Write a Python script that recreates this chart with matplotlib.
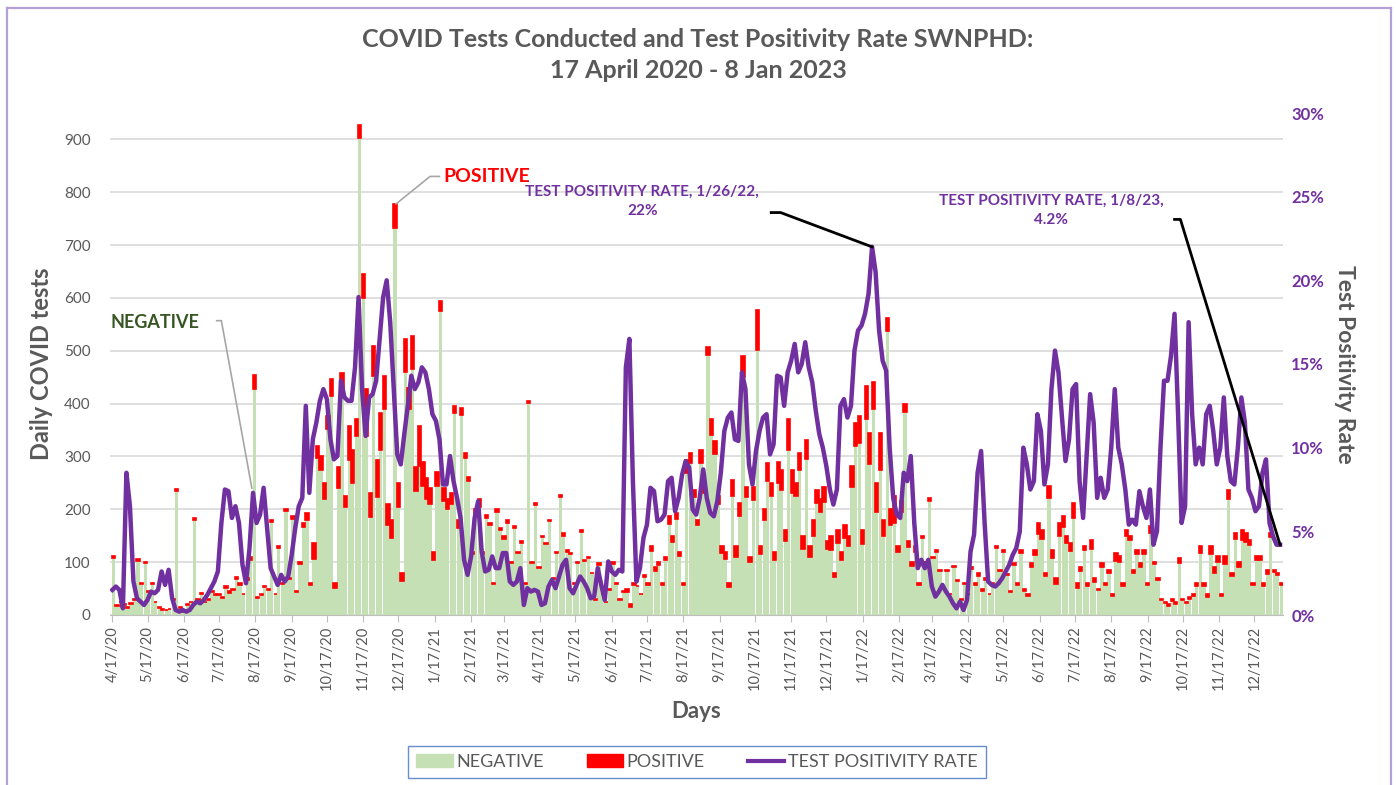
import datetime as dt

import numpy as np
import matplotlib
matplotlib.use("Agg")
import matplotlib.pyplot as plt
from matplotlib.patches import Patch
from matplotlib.lines import Line2D
from matplotlib.ticker import FuncFormatter, MultipleLocator

plt.rcParams["font.family"] = ["Lato", "DejaVu Sans"]

START = dt.date(2020, 4, 17)
BIN_DAYS = 3  # values in 3-day steps

# total tests per step (negative + positive)
daily_tests = [
    112, 18, 25, 20, 15, 22, 30, 106, 60, 100,
    45, 60, 25, 15, 12, 10, 12, 30, 238, 15,
    5, 20, 25, 183, 30, 42, 25, 30, 45, 40,
    40, 35, 55, 45, 50, 72, 60, 40, 70, 110,
    455, 35, 40, 55, 50, 180, 40, 130, 60, 200,
    70, 187, 45, 100, 174, 193, 60, 136, 320, 300,
    250, 377, 446, 60, 280, 458, 225, 358, 313, 370,
    928, 645, 427, 230, 510, 293, 383, 452, 210, 180,
    778, 250, 80, 522, 430, 528, 280, 358, 290, 260,
    240, 120, 270, 595, 240, 220, 230, 395, 180, 392,
    307, 262, 120, 200, 219, 120, 190, 175, 60, 200,
    165, 150, 180, 100, 168, 120, 140, 60, 405, 100,
    212, 90, 150, 136, 180, 70, 120, 228, 155, 123,
    117, 60, 100, 161, 105, 110, 80, 30, 98, 40,
    25, 50, 100, 60, 30, 45, 50, 20, 60, 55,
    40, 75, 60, 130, 90, 100, 60, 110, 187, 150,
    193, 120, 60, 294, 307, 237, 180, 313, 250, 507,
    370, 330, 225, 130, 120, 60, 256, 130, 212, 490,
    243, 110, 243, 577, 130, 200, 288, 250, 120, 290,
    275, 160, 370, 275, 250, 307, 150, 332, 130, 180,
    237, 220, 243, 140, 149, 80, 161, 120, 170, 150,
    282, 364, 377, 160, 434, 345, 440, 250, 345, 180,
    562, 200, 225, 130, 215, 400, 140, 100, 130, 60,
    150, 100, 221, 110, 123, 85, 50, 85, 40, 92,
    66, 30, 60, 40, 90, 60, 80, 50, 70, 40,
    60, 130, 85, 123, 78, 45, 98, 60, 123, 50,
    40, 98, 123, 174, 161, 80, 244, 123, 70, 174,
    187, 149, 136, 212, 60, 90, 130, 60, 142, 70,
    50, 98, 60, 85, 40, 117, 111, 60, 161, 149,
    85, 123, 98, 123, 60, 168, 100, 70, 30, 25,
    20, 30, 25, 108, 30, 25, 35, 40, 60, 130,
    60, 40, 130, 90, 111, 40, 111, 237, 80, 155,
    100, 161, 155, 142, 60, 111, 111, 60, 85, 155,
    85, 79, 60,
]

positive = [
    4, 1, 1, 1, 2, 2, 1, 3, 1, 2,
    2, 2, 1, 1, 2, 1, 1, 1, 3, 1,
    0, 1, 1, 3, 1, 2, 1, 1, 2, 2,
    2, 2, 3, 3, 3, 4, 3, 1, 3, 5,
    28, 2, 2, 2, 2, 4, 1, 3, 2, 4,
    2, 5, 2, 4, 8, 14, 4, 30, 22, 25,
    30, 25, 32, 8, 40, 38, 20, 64, 63, 32,
    25, 45, 89, 45, 58, 70, 70, 63, 40, 35,
    45, 45, 15, 63, 40, 63, 45, 76, 45, 40,
    30, 15, 25, 20, 25, 20, 20, 12, 15, 14,
    10, 8, 4, 10, 14, 5, 6, 5, 2, 6,
    5, 6, 6, 2, 3, 2, 4, 1, 4, 2,
    3, 1, 2, 1, 3, 2, 2, 4, 5, 4,
    2, 1, 2, 4, 2, 2, 1, 1, 3, 1,
    1, 2, 3, 2, 1, 1, 6, 4, 4, 1,
    1, 3, 3, 8, 6, 5, 3, 6, 15, 12,
    12, 8, 4, 25, 20, 14, 10, 25, 20, 15,
    30, 25, 15, 12, 14, 7, 30, 20, 25, 40,
    20, 10, 25, 75, 15, 20, 35, 25, 15, 40,
    38, 20, 57, 44, 25, 32, 25, 37, 20, 30,
    25, 25, 30, 15, 26, 8, 25, 15, 25, 20,
    40, 45, 51, 25, 64, 60, 51, 55, 70, 30,
    25, 30, 50, 10, 20, 16, 12, 8, 10, 4,
    5, 3, 5, 3, 3, 2, 1, 2, 1, 2,
    1, 1, 1, 1, 3, 3, 6, 5, 3, 1,
    2, 3, 2, 3, 2, 1, 3, 3, 6, 5,
    4, 7, 9, 20, 18, 6, 22, 16, 11, 24,
    20, 13, 14, 28, 8, 7, 7, 6, 18, 8,
    3, 8, 4, 6, 4, 15, 11, 5, 12, 8,
    5, 7, 7, 8, 3, 13, 4, 3, 2, 3,
    3, 4, 4, 9, 2, 2, 5, 4, 5, 13,
    5, 5, 15, 10, 10, 4, 14, 18, 6, 12,
    10, 20, 17, 10, 4, 7, 7, 5, 8, 8,
    4, 3, 3,
]

# test positivity rate, percent
positivity_rate = [
    1.5, 1.7, 1.5, 0.4, 8.5, 6.5, 2.0, 1.0, 0.8, 0.6,
    0.9, 1.4, 1.3, 1.5, 2.6, 1.8, 2.7, 1.0, 0.3, 0.2,
    0.3, 0.2, 0.3, 0.6, 0.8, 0.7, 0.9, 1.2, 1.6, 2.0,
    2.6, 5.5, 7.5, 7.4, 5.8, 6.5, 5.5, 3.0, 1.9, 4.0,
    7.3, 5.5, 6.0, 7.6, 5.2, 2.8, 2.3, 1.8, 2.4, 2.0,
    2.3, 3.6, 5.2, 6.5, 7.0, 12.5, 7.3, 10.5, 11.5, 12.8,
    13.5, 12.9, 10.5, 9.3, 9.5, 14.0, 13.0, 12.8, 12.8, 14.8,
    19.0, 13.5, 10.7, 13.0, 13.2, 14.0, 16.5, 19.0, 20.0, 17.5,
    13.5, 9.6, 9.0, 10.8, 12.5, 14.3, 13.5, 13.9, 14.8, 14.5,
    13.5, 12.0, 11.6, 10.5, 7.8, 7.8, 9.5, 8.0, 7.0, 5.8,
    3.3, 2.4, 3.5, 5.8, 6.8, 3.8, 2.6, 2.7, 3.5, 2.8,
    2.8, 3.7, 3.7, 2.0, 1.8, 2.0, 2.8, 0.6, 1.6, 1.4,
    1.5, 1.4, 0.6, 0.7, 1.7, 2.1, 1.6, 2.3, 3.0, 3.3,
    1.6, 1.3, 1.8, 2.3, 2.0, 1.6, 1.0, 1.1, 2.8, 1.8,
    0.9, 3.2, 2.6, 2.4, 2.7, 2.6, 14.8, 16.5, 8.0, 2.0,
    2.8, 4.6, 5.4, 7.6, 7.4, 5.6, 5.7, 6.0, 8.0, 8.2,
    6.2, 7.0, 8.4, 9.2, 8.8, 6.3, 6.0, 7.0, 8.7, 7.0,
    6.1, 5.9, 6.8, 8.5, 11.0, 11.8, 12.1, 10.5, 10.4, 14.5,
    13.5, 9.0, 7.8, 9.8, 11.0, 11.8, 12.0, 9.6, 10.2, 14.3,
    14.2, 12.5, 14.5, 15.2, 16.2, 14.5, 15.0, 16.3, 14.8, 13.9,
    12.2, 10.8, 10.0, 8.9, 7.5, 6.6, 7.5, 12.5, 12.9, 11.8,
    12.5, 15.8, 17.0, 17.3, 18.0, 19.2, 22.0, 20.5, 17.0, 15.2,
    14.6, 10.0, 7.0, 6.0, 5.8, 8.5, 8.0, 9.5, 5.5, 2.8,
    3.3, 2.8, 3.3, 1.7, 1.1, 1.4, 1.8, 1.4, 1.1, 0.7,
    0.4, 0.8, 0.3, 0.9, 3.8, 4.8, 8.5, 9.8, 5.5, 2.0,
    1.8, 1.7, 1.9, 2.2, 2.6, 3.0, 3.6, 4.0, 5.0, 10.0,
    9.0, 7.5, 8.0, 12.0, 11.0, 7.8, 9.0, 13.5, 15.8, 14.5,
    11.8, 9.2, 10.5, 13.5, 13.8, 8.0, 5.8, 9.5, 13.2, 11.5,
    7.0, 8.2, 7.0, 7.5, 10.0, 13.5, 10.0, 9.0, 7.5, 5.4,
    5.7, 5.4, 7.4, 6.5, 5.8, 7.5, 4.2, 5.0, 10.0, 14.0,
    14.0, 15.5, 18.0, 12.0, 5.5, 6.5, 17.5, 12.0, 9.0, 10.0,
    9.0, 12.0, 12.5, 11.0, 9.0, 10.0, 13.0, 9.5, 8.0, 7.8,
    10.0, 13.0, 11.5, 7.5, 7.0, 6.2, 6.5, 8.5, 9.3, 5.5,
    4.7, 4.2, 4.2,
]

tick_labels = [
    "4/17/20", "5/17/20", "6/17/20", "7/17/20", "8/17/20", "9/17/20",
    "10/17/20", "11/17/20", "12/17/20", "1/17/21", "2/17/21", "3/17/21",
    "4/17/21", "5/17/21", "6/17/21", "7/17/21", "8/17/21", "9/17/21",
    "10/17/21", "11/17/21", "12/17/21", "1/17/22", "2/17/22", "3/17/22",
    "4/17/22", "5/17/22", "6/17/22", "7/17/22", "8/17/22", "9/17/22",
    "10/17/22", "11/17/22", "12/17/22",
]

GREEN = "#c5e0b4"
RED = "#ff0000"
PURPLE = "#7030a0"
GREY = "#595959"

assert len(daily_tests) == len(positive) == len(positivity_rate)

day = np.arange(len(daily_tests)) * BIN_DAYS
tests = np.array(daily_tests, dtype=float)
pos = np.array(positive, dtype=float)
neg = tests - pos
rate = np.array(positivity_rate) / 100.0

tick_pos = [(dt.datetime.strptime(s, "%m/%d/%y").date() - START).days for s in tick_labels]

W, H = 1396, 785
fig = plt.figure(figsize=(W / 100, H / 100), dpi=100)
ax = fig.add_axes([110 / W, 1 - 615 / H, (1283 - 110) / W, (615 - 113) / H])

ax.bar(day + 1, neg, width=2.85, color=GREEN, linewidth=0, zorder=2)
ax.bar(day + 1, pos, bottom=neg, width=2.85, color=RED, edgecolor=RED,
       linewidth=1.2, zorder=3)

ax.set_xlim(-2, 998.5)
ax.set_ylim(0, 950)
ax.yaxis.set_major_locator(MultipleLocator(100))
ax.grid(axis="y", color="#d9d9d9", linewidth=1.2, zorder=0)
ax.set_axisbelow(True)
for s in ("top", "left", "right"):
    ax.spines[s].set_visible(False)
ax.spines["bottom"].set_color("#bfbfbf")
ax.tick_params(axis="y", length=0, labelsize=11, labelcolor=GREY, pad=14)
ax.set_xticks(tick_pos)
ax.set_xticklabels(tick_labels, rotation=90, fontsize=10.5, color=GREY)
ax.tick_params(axis="x", length=5, color="#bfbfbf", pad=3)
ax.set_ylabel("Daily COVID tests", fontsize=17, fontweight="bold", color=GREY, labelpad=8)
ax.set_xlabel("Days", fontsize=16, fontweight="bold", color=GREY, labelpad=8)

ax2 = ax.twinx()
ax2.plot(day, rate, color=PURPLE, linewidth=3.2, solid_joinstyle="round", zorder=4)
ax2.set_ylim(0, 0.30)
ax2.yaxis.set_major_locator(MultipleLocator(0.05))
ax2.yaxis.set_major_formatter(FuncFormatter(lambda v, _: f"{v * 100:.0f}%"))
for s in ("top", "left", "right", "bottom"):
    ax2.spines[s].set_visible(False)
ax2.tick_params(axis="y", length=0, labelsize=12, labelcolor=PURPLE, pad=6)
for lab in ax2.get_yticklabels():
    lab.set_fontweight("bold")
ax2.set_ylabel("Test Positivity Rate", fontsize=16.5, fontweight="bold", color=GREY,
               rotation=270, labelpad=22)

# callouts
ax.text(-2, 553, "NEGATIVE", color="#375623", fontsize=13, fontweight="bold",
        ha="left", va="center")
ax.plot([89, 93, day[40] - 1], [557, 557, 240], color="#a6a6a6", lw=1.2, zorder=5)

ax.text(282, 830, "POSITIVE", color=RED, fontsize=14, fontweight="bold",
        ha="left", va="center")
ax.plot([279, 271, day[80] + 2], [830, 830, tests[80]], color="#a6a6a6", lw=1.2, zorder=5)

peak = int(np.argmax(rate))
ax2.text(452, 0.247, "TEST POSITIVITY RATE, 1/26/22,\n22%", color=PURPLE, fontsize=11,
         fontweight="bold", ha="center", va="center", linespacing=1.5)
ax2.plot([562, 570, day[peak]], [0.2405, 0.2405, rate[peak]], color="black", lw=2, zorder=6)

ax2.text(801, 0.242, "TEST POSITIVITY RATE, 1/8/23,\n4.2%", color=PURPLE, fontsize=11,
         fontweight="bold", ha="center", va="center", linespacing=1.5)
ax2.plot([906, 911, day[-1]], [0.2364, 0.2364, rate[-1]], color="black", lw=2, zorder=6)

fig.text(0.5, 1 - 55 / H,
         "COVID Tests Conducted and Test Positivity Rate SWNPHD:\n17 April 2020 - 8 Jan 2023",
         ha="center", va="center", fontsize=18, fontweight="bold", color=GREY, linespacing=1.4)

handles = [
    Patch(facecolor=GREEN, edgecolor=GREEN, label="NEGATIVE"),
    Patch(facecolor=RED, edgecolor=RED, label="POSITIVE"),
    Line2D([0], [0], color=PURPLE, lw=3, label="TEST POSITIVITY RATE"),
]
leg = fig.legend(handles=handles, loc="center", bbox_to_anchor=(697 / W, 1 - 762 / H),
                 ncol=3, frameon=True, fancybox=False, fontsize=13,
                 handlelength=2.0, handletextpad=0.2, columnspacing=2.4,
                 borderpad=0.45, borderaxespad=0, labelcolor=GREY)
leg.get_frame().set_edgecolor("#4472c4")
leg.get_frame().set_linewidth(1.0)

# chart-area outline (left, top, right edges visible)
edge = dict(color="#b4a0d4", lw=1.6, transform=fig.transFigure)
fig.add_artist(Line2D([7.5 / W, 7.5 / W], [0, 1 - 7.5 / H], **edge))
fig.add_artist(Line2D([7.5 / W, 1391 / W], [1 - 7.5 / H, 1 - 7.5 / H], **edge))
fig.add_artist(Line2D([1391 / W, 1391 / W], [0, 1 - 7.5 / H], **edge))

fig.savefig("out.png", dpi=100)
